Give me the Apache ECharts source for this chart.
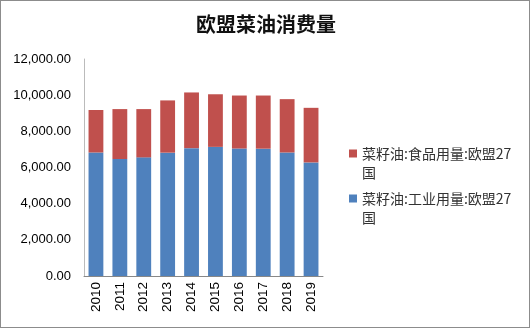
<!DOCTYPE html>
<html><head><meta charset="utf-8">
<script src="https://cdn.jsdelivr.net/npm/echarts@6/dist/echarts.min.js"></script>
<style>html,body{margin:0;padding:0;background:#fff}#c{width:530px;height:328px;box-sizing:border-box;border:1px solid #8c8c8c;}</style>
</head><body><div id="c"></div>
<script>
const categories = ['2010','2011','2012','2013','2014','2015','2016','2017','2018','2019'];
const industrial = [6830, 6470, 6560, 6820, 7070, 7140, 7050, 7040, 6830, 6280];
const food = [2350, 2760, 2670, 2890, 3080, 2910, 2930, 2940, 2950, 3020];
const seriesNames = ['菜籽油:食品用量:欧盟27国', '菜籽油:工业用量:欧盟27国'];
const chart = echarts.init(document.getElementById('c'));
chart.setOption({
  animation: false,
  title: { text: '欧盟菜油消费量', left: 265, top: 13, textAlign: 'center', padding: 0,
    textStyle: { fontFamily: 'Noto Sans CJK SC', fontWeight: 'bold', fontSize: 20, color: '#111' } },
  grid: { left: 83, right: 206, top: 58, bottom: 51 },
  legend: {
    orient: 'vertical', left: 348, top: 124, padding: 0, itemWidth: 8, itemHeight: 8, itemGap: -12,
    icon: 'rect', data: [seriesNames[0], seriesNames[1]],
    formatter: n => ' \n' + n.replace('27国', '27\n国'),
    textStyle: { fontFamily: 'Noto Sans CJK SC', fontSize: 14, color: '#333', lineHeight: 19 }
  },
  xAxis: {
    type: 'category', data: categories,
    axisLine: { lineStyle: { color: '#888' } }, axisTick: { show: false },
    axisLabel: { rotate: 90, color: '#000', fontFamily: 'Liberation Sans', fontSize: 13.5, margin: 6 }
  },
  yAxis: {
    type: 'value', min: 0, max: 12000, interval: 2000,
    axisLine: { show: true, lineStyle: { color: '#bbb' } }, axisTick: { show: false },
    splitLine: { show: false },
    axisLabel: { color: '#000', fontFamily: 'Liberation Sans', fontSize: 13, margin: 13,
      formatter: v => v.toLocaleString('en-US', { minimumFractionDigits: 2, maximumFractionDigits: 2 }) }
  },
  series: [
    { name: seriesNames[1], type: 'bar', stack: 's', data: industrial, barWidth: '62%', itemStyle: { color: '#4F81BD' } },
    { name: seriesNames[0], type: 'bar', stack: 's', data: food, itemStyle: { color: '#C0504D' } }
  ]
});
</script></body></html>
